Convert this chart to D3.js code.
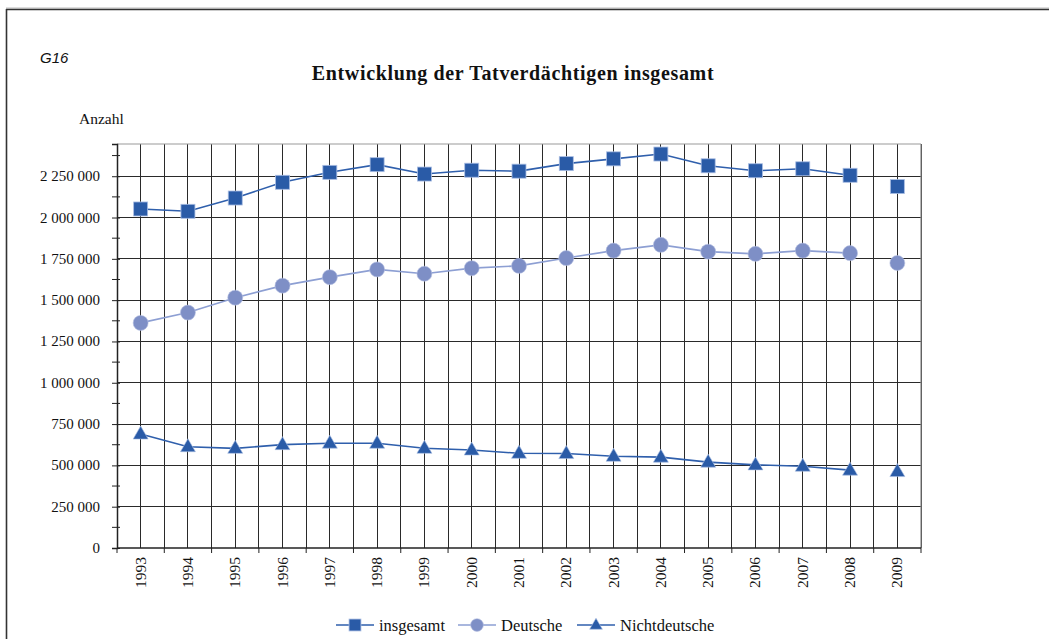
<!DOCTYPE html>
<html><head><meta charset="utf-8">
<script src="https://cdn.jsdelivr.net/npm/d3@7"></script>
<style>
body{margin:0;background:#fff;}
svg text{font-family:"Liberation Serif","Times New Roman",serif;fill:#111;}
</style></head>
<body><svg id="c" width="1049" height="639"></svg>
<script>
const years = ["1993","1994","1995","1996","1997","1998","1999","2000","2001","2002","2003","2004","2005","2006","2007","2008","2009"];
const insgesamt = [2051775,2037729,2118104,2213293,2273541,2319895,2263140,2286372,2280611,2326149,2355161,2384268,2313136,2283127,2294883,2255693,2187217];
const deutsche = [1362278,1424741,1514974,1587708,1639184,1685952,1659893,1693567,1707496,1754637,1799930,1834545,1793555,1780090,1799935,1784626,1724839];
const nichtdeutsche = [689497,612988,603130,625585,634357,633943,603247,592805,573115,571512,555231,549723,519581,503037,494948,471067,462378];
const yTicks = [0,250000,500000,750000,1000000,1250000,1500000,1750000,2000000,2250000];
const lastConnectedYear = "2008";
const seriesNames = ["insgesamt","Deutsche","Nichtdeutsche"];

const svg = d3.select("#c");
const L = 117, R = 921, T = 144, B = 548;
const x = d3.scaleBand().domain(years).range([L, R]);
const y = d3.scaleLinear().domain([0, 2445000]).range([B, T]);
const fmt = v => d3.format(",")(v).replace(/,/g, " ");

// frame
svg.append("line").attr("x1",6).attr("x2",1049).attr("y1",8).attr("y2",8).attr("stroke","#bbb").attr("stroke-width",1);
svg.append("line").attr("x1",6).attr("x2",1049).attr("y1",9.5).attr("y2",9.5).attr("stroke","#333").attr("stroke-width",1.6);
svg.append("line").attr("x1",6.5).attr("x2",6.5).attr("y1",9).attr("y2",639).attr("stroke","#333").attr("stroke-width",1.6);

svg.append("text").attr("x",40).attr("y",63).text("G16")
  .style("font-family","'Liberation Sans',Arial,sans-serif").style("font-style","italic").style("font-size","15px");
svg.append("text").attr("x",513).attr("y",80).attr("text-anchor","middle").text("Entwicklung der Tatverdächtigen insgesamt")
  .style("font-weight","bold").style("font-size","20px").style("letter-spacing","0.65px");
svg.append("text").attr("x",79).attr("y",124).text("Anzahl").style("font-size","15.5px");

// grid
const g = svg.append("g");
const halfs = [];
years.forEach(yr => { halfs.push(x(yr)); halfs.push(x(yr) + x.bandwidth()/2); });
halfs.push(R);
g.selectAll(".vg").data(halfs).enter().append("line")
  .attr("x1",d=>d).attr("x2",d=>d).attr("y1",T).attr("y2",B).attr("stroke","#2a2a2a").attr("stroke-width",1)
  .attr("shape-rendering","crispEdges");
g.selectAll(".hg").data(yTicks.slice(1)).enter().append("line")
  .attr("x1",L).attr("x2",R).attr("y1",d=>y(d)).attr("y2",d=>y(d)).attr("stroke","#2a2a2a").attr("stroke-width",1)
  .attr("shape-rendering","crispEdges");
svg.append("line").attr("x1",L).attr("x2",R).attr("y1",T).attr("y2",T).attr("stroke","#999").attr("stroke-width",1.2);
svg.append("line").attr("x1",R).attr("x2",R).attr("y1",T).attr("y2",B).attr("stroke","#888").attr("stroke-width",1.2);

// y axis (ticks via d3 axis, labels drawn explicitly)
const yAxis = d3.axisLeft(y).tickValues(yTicks).tickFormat("").tickSize(5);
const ya = svg.append("g").attr("transform",`translate(${L},0)`).call(yAxis);
ya.select(".domain").attr("stroke","#222").attr("stroke-width",1.5);
ya.selectAll(".tick line").attr("stroke","#222").attr("x2",-5).attr("x1",3);
svg.append("g").selectAll("text").data(yTicks).enter().append("text")
  .attr("x", L - 17).attr("y", d => y(d) + 5)
  .attr("text-anchor","end")
  .attr("font-size", 15)
  .style("font-size","15px")
  .text(fmt);
const minors = d3.range(125000, 2445000, 250000);
svg.append("g").selectAll("line").data(minors).enter().append("line")
  .attr("x1",L-5).attr("x2",L+3).attr("y1",d=>y(d)).attr("y2",d=>y(d)).attr("stroke","#222");

// x axis
svg.append("line").attr("x1",L).attr("x2",R).attr("y1",B).attr("y2",B).attr("stroke","#222").attr("stroke-width",1.5);
svg.append("g").selectAll("line").data(years.map(d=>x(d)).concat([R])).enter().append("line")
  .attr("x1",d=>d).attr("x2",d=>d).attr("y1",B).attr("y2",B+5).attr("stroke","#222");
svg.append("g").selectAll("text").data(years).enter().append("text")
  .attr("transform",d=>`translate(${x(d)+x.bandwidth()/2+5},557) rotate(-90)`)
  .attr("text-anchor","end").attr("font-size",15.5).style("font-size","15.5px").text(d=>d);

// series
const cx = d => x(d) + x.bandwidth()/2;
const dark = "#2a5ba7", light = "#7e8fc6";
const series = [
  {name: seriesNames[0], vals: insgesamt, color: dark, line: "#2f5fac", marker: "square"},
  {name: seriesNames[1], vals: deutsche, color: light, line: "#8d9fd3", marker: "circle"},
  {name: seriesNames[2], vals: nichtdeutsche, color: dark, line: "#2f5fac", marker: "triangle"}
];
const lastIdx = years.indexOf(lastConnectedYear);
function marker(sel, type, color, s) {
  if (type === "square") sel.append("rect").attr("x",-7*s).attr("y",-7*s).attr("width",14*s).attr("height",14*s)
    .attr("fill",color).attr("stroke","#a9bde3").attr("stroke-width",0.8);
  else if (type === "circle") sel.append("circle").attr("r",7.5*s).attr("fill",color).attr("stroke","#b7c1e3").attr("stroke-width",0.6);
  else sel.append("path").attr("d",`M0,${-8*s}L${7.5*s},${5*s}L${-7.5*s},${5*s}Z`).attr("fill",color)
    .attr("stroke","#a9bde3").attr("stroke-width",0.6);
}
series.forEach(s => {
  const pts = years.map((yr,i)=>({yr, v:s.vals[i], i}));
  svg.append("path").datum(pts.filter(p=>p.i<=lastIdx))
    .attr("d", d3.line().x(p=>cx(p.yr)).y(p=>y(p.v)))
    .attr("fill","none").attr("stroke",s.line).attr("stroke-width",1.6);
  pts.forEach(p => {
    const m = svg.append("g").attr("transform",`translate(${cx(p.yr)},${y(p.v)})`);
    marker(m, s.marker, s.color, 1);
  });
});

// legend
const lg = svg.append("g");
const lx = [336, 458, 577];
series.forEach((s,i) => {
  const gx = lx[i];
  lg.append("line").attr("x1",gx).attr("x2",gx+38).attr("y1",625).attr("y2",625).attr("stroke",s.line).attr("stroke-width",1.6);
  const m = lg.append("g").attr("transform",`translate(${gx+19},625)`);
  marker(m, s.marker, s.color, 0.85);
  lg.append("text").attr("x",gx+43).attr("y",630.5).style("font-size","16.5px").text(s.name);
});
</script></body></html>
